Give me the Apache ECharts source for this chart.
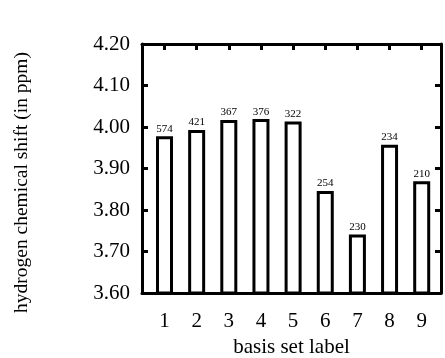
<!DOCTYPE html>
<html>
<head>
<meta charset="utf-8">
<script src="https://cdn.jsdelivr.net/npm/echarts@6/dist/echarts.min.js"></script>
<style>html,body{margin:0;padding:0;background:#fff;}#c{width:445px;height:358px;}</style>
</head>
<body>
<div id="c"></div>
<script>
const basisSets = [1, 2, 3, 4, 5, 6, 7, 8, 9];
const shifts = [3.978, 3.993, 4.017, 4.019, 4.013, 3.846, 3.741, 3.957, 3.869];
const barLabels = ['574', '421', '367', '376', '322', '254', '230', '234', '210'];
const yTicks = [3.6, 3.7, 3.8, 3.9, 4.0, 4.1, 4.2];

const font = 'Liberation Serif';
const chart = echarts.init(document.getElementById('c'), null, {renderer: 'canvas'});
const axisLine = {show: true, onZero: false, lineStyle: {color: '#000', width: 3}};
const tick = {show: true, inside: true, length: 6, lineStyle: {color: '#000', width: 3}};
chart.setOption({
  animation: false,
  backgroundColor: '#fff',
  grid: {left: 142, right: 4, top: 44, bottom: 65, containLabel: false, outerBoundsMode: 'none'},
  xAxis: [{
    type: 'value', min: 0.3, max: 9.6, position: 'bottom',
    axisLine: axisLine,
    axisTick: Object.assign({customValues: basisSets}, tick),
    axisLabel: {show: true, customValues: basisSets, margin: 18, fontFamily: font, fontSize: 21, color: '#000'},
    splitLine: {show: false},
    name: 'basis set label', nameLocation: 'middle', nameGap: 40,
    nameTextStyle: {fontFamily: font, fontSize: 21, color: '#000'}
  }, {
    type: 'value', min: 0.3, max: 9.6, position: 'top',
    axisLine: axisLine,
    axisTick: Object.assign({customValues: basisSets}, tick),
    axisLabel: {show: false}, splitLine: {show: false}
  }],
  yAxis: [{
    type: 'value', min: 3.6, max: 4.2, interval: 0.1, position: 'left',
    axisLine: axisLine,
    axisTick: tick,
    axisLabel: {margin: 12, fontFamily: font, fontSize: 21, color: '#000',
      formatter: v => v.toFixed(2)},
    splitLine: {show: false},
    name: 'hydrogen chemical shift (in ppm)', nameLocation: 'middle', nameGap: 110,
    nameTextStyle: {fontFamily: font, fontSize: 19.5, color: '#000', padding: [0, 28, 0, 0]}
  }, {
    type: 'value', min: 3.6, max: 4.2, interval: 0.1, position: 'right',
    axisLine: axisLine,
    axisTick: tick,
    axisLabel: {show: false}, splitLine: {show: false}
  }],
  series: [{
    type: 'bar',
    xAxisIndex: 0, yAxisIndex: 0,
    barWidth: 17,
    data: basisSets.map((b, i) => [b, shifts[i]]),
    itemStyle: {color: '#fff', borderColor: '#000', borderWidth: 3},
    label: {show: true, position: 'top', distance: 2, fontFamily: font, fontSize: 11, color: '#000',
      formatter: p => barLabels[p.dataIndex]},
    z: 1
  }]
});
</script>
</body>
</html>
